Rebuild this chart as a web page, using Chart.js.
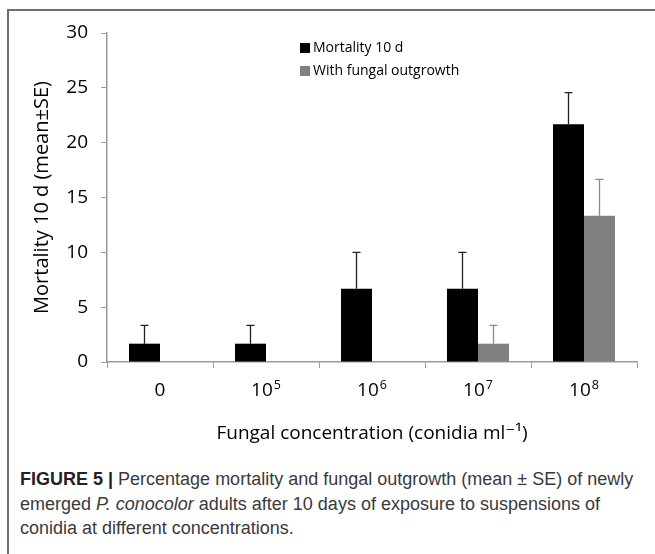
<!DOCTYPE html>
<html>
<head>
<meta charset="utf-8">
<script src="https://cdn.jsdelivr.net/npm/chart.js@4/dist/chart.umd.min.js"></script>
<style>
  html, body { margin: 0; padding: 0; background: #fff; }
  .frame { position: absolute; left: 7px; top: 9px; width: 700px; height: 600px;
           border-top: 2px solid #6e6e6e; border-left: 2px solid #6e6e6e; }
  .wrap { position: absolute; left: 0; top: 0; width: 655px; height: 460px; }
  .caption { position: absolute; left: 20px; top: 467px; white-space: nowrap;
             font-family: "Liberation Sans", Arial, sans-serif; font-size: 18px;
             line-height: 24.5px; color: #3a3a3a; }
  .caption b { color: #222; }
</style>
</head>
<body>
<div class="frame"></div>
<div class="wrap"><canvas id="c"></canvas></div>
<div class="caption">
  <b>FIGURE 5 |</b> Percentage mortality and fungal outgrowth (mean ± SE) of newly<br>
  emerged <i>P. conocolor</i> adults after 10 days of exposure to suspensions of<br>
  conidia at different concentrations.
</div>
<script>
// concentrations (conidia/ml): base + exponent
const categories = ['0', '10^5', '10^6', '10^7', '10^8'];
const mortality = [1.67, 1.67, 6.67, 6.67, 21.67];
const mortalitySE = [1.67, 1.67, 3.33, 3.33, 2.9];
const outgrowth = [0, 0, 0, 1.67, 13.33];
const outgrowthSE = [0, 0, 0, 1.67, 3.33];

const FONT = '"Open Sans", "DejaVu Sans", sans-serif';
const AXIS = '#9a9a9a';

// upper whiskers only, like the original
const errorBars = {
  id: 'errorBars',
  afterDatasetsDraw(chart) {
    const { ctx, scales: { y } } = chart;
    chart.data.datasets.forEach((ds, i) => {
      const meta = chart.getDatasetMeta(i);
      meta.data.forEach((bar, j) => {
        const e = ds.errors[j];
        if (!e) return;
        const top = y.getPixelForValue(ds.data[j] + e);
        ctx.save();
        ctx.strokeStyle = ds.errorColor;
        ctx.lineWidth = 1.3;
        ctx.beginPath();
        ctx.moveTo(bar.x, bar.y);
        ctx.lineTo(bar.x, top);
        ctx.moveTo(bar.x - 4, top);
        ctx.lineTo(bar.x + 4, top);
        ctx.stroke();
        ctx.restore();
      });
    });
  }
};

// x labels with real superscripts
const powerLabels = {
  id: 'powerLabels',
  afterDraw(chart) {
    const { ctx, scales: { x } } = chart;
    ctx.save();
    ctx.fillStyle = '#000';
    ctx.textBaseline = 'alphabetic';
    chart.data.labels.forEach((lab, i) => {
      const [base, exp] = lab.split('^');
      const cx = x.getPixelForValue(i);
      const yy = x.top + 34;
      ctx.font = '19px ' + FONT;
      const wb = ctx.measureText(base).width;
      let we = 0;
      if (exp) { ctx.font = '12.5px ' + FONT; we = ctx.measureText(exp).width + 1; }
      const x0 = cx - (wb + we) / 2;
      ctx.font = '19px ' + FONT;
      ctx.fillText(base, x0, yy);
      if (exp) { ctx.font = '12.5px ' + FONT; ctx.fillText(exp, x0 + wb + 1, yy - 7); }
    });
    ctx.restore();
  }
};

// legend sits inside the plot, stacked
const innerLegend = {
  id: 'innerLegend',
  afterDraw(chart) {
    const ctx = chart.ctx;
    ctx.save();
    ctx.font = '14px ' + FONT;
    ctx.textBaseline = 'middle';
    chart.data.datasets.forEach((ds, i) => {
      const yy = 48 + i * 23;
      ctx.fillStyle = ds.backgroundColor;
      ctx.fillRect(300, yy - 5, 10, 10);
      ctx.fillStyle = '#000';
      ctx.fillText(ds.label, 313, yy);
    });
    ctx.restore();
  }
};

new Chart(document.getElementById('c'), {
  type: 'bar',
  data: {
    labels: categories,
    datasets: [
      { label: 'Mortality 10 d', data: mortality, errors: mortalitySE, backgroundColor: '#000000', errorColor: '#222' },
      { label: 'With fungal outgrowth', data: outgrowth, errors: outgrowthSE, backgroundColor: '#808080', errorColor: '#8a8a8a' }
    ]
  },
  options: {
    responsive: true, maintainAspectRatio: false, animation: false,
    layout: { padding: { top: 33, right: 18, left: 0, bottom: 0 } },
    datasets: { bar: { categoryPercentage: 0.585, barPercentage: 1 } },
    plugins: { legend: { display: false }, tooltip: { enabled: false } },
    scales: {
      x: {
        grid: { drawOnChartArea: false, drawTicks: true, tickLength: 6, color: AXIS },
        border: { color: AXIS, width: 1.5 },
        ticks: { display: false },
        title: { display: true, text: 'Fungal concentration (conidia ml⁻¹)', color: '#000',
                 font: { family: FONT, size: 19, lineHeight: 1.2 }, padding: { top: 0, bottom: 15 } },
        afterFit(s) { s.height = 98; }
      },
      y: {
        min: 0, max: 30,
        grid: { drawOnChartArea: false, drawTicks: true, tickLength: 6, color: AXIS },
        border: { color: AXIS, width: 1.5 },
        ticks: { stepSize: 5, color: '#000', font: { family: FONT, size: 19 }, padding: 13 },
        title: { display: true, text: 'Mortality 10 d (mean±SE)', color: '#000',
                 font: { family: FONT, size: 20, lineHeight: 1.2 }, padding: { top: 30, bottom: 0 } },
        afterFit(s) { s.width = 107; }
      }
    }
  },
  plugins: [errorBars, powerLabels, innerLegend]
});
</script>
</body>
</html>
